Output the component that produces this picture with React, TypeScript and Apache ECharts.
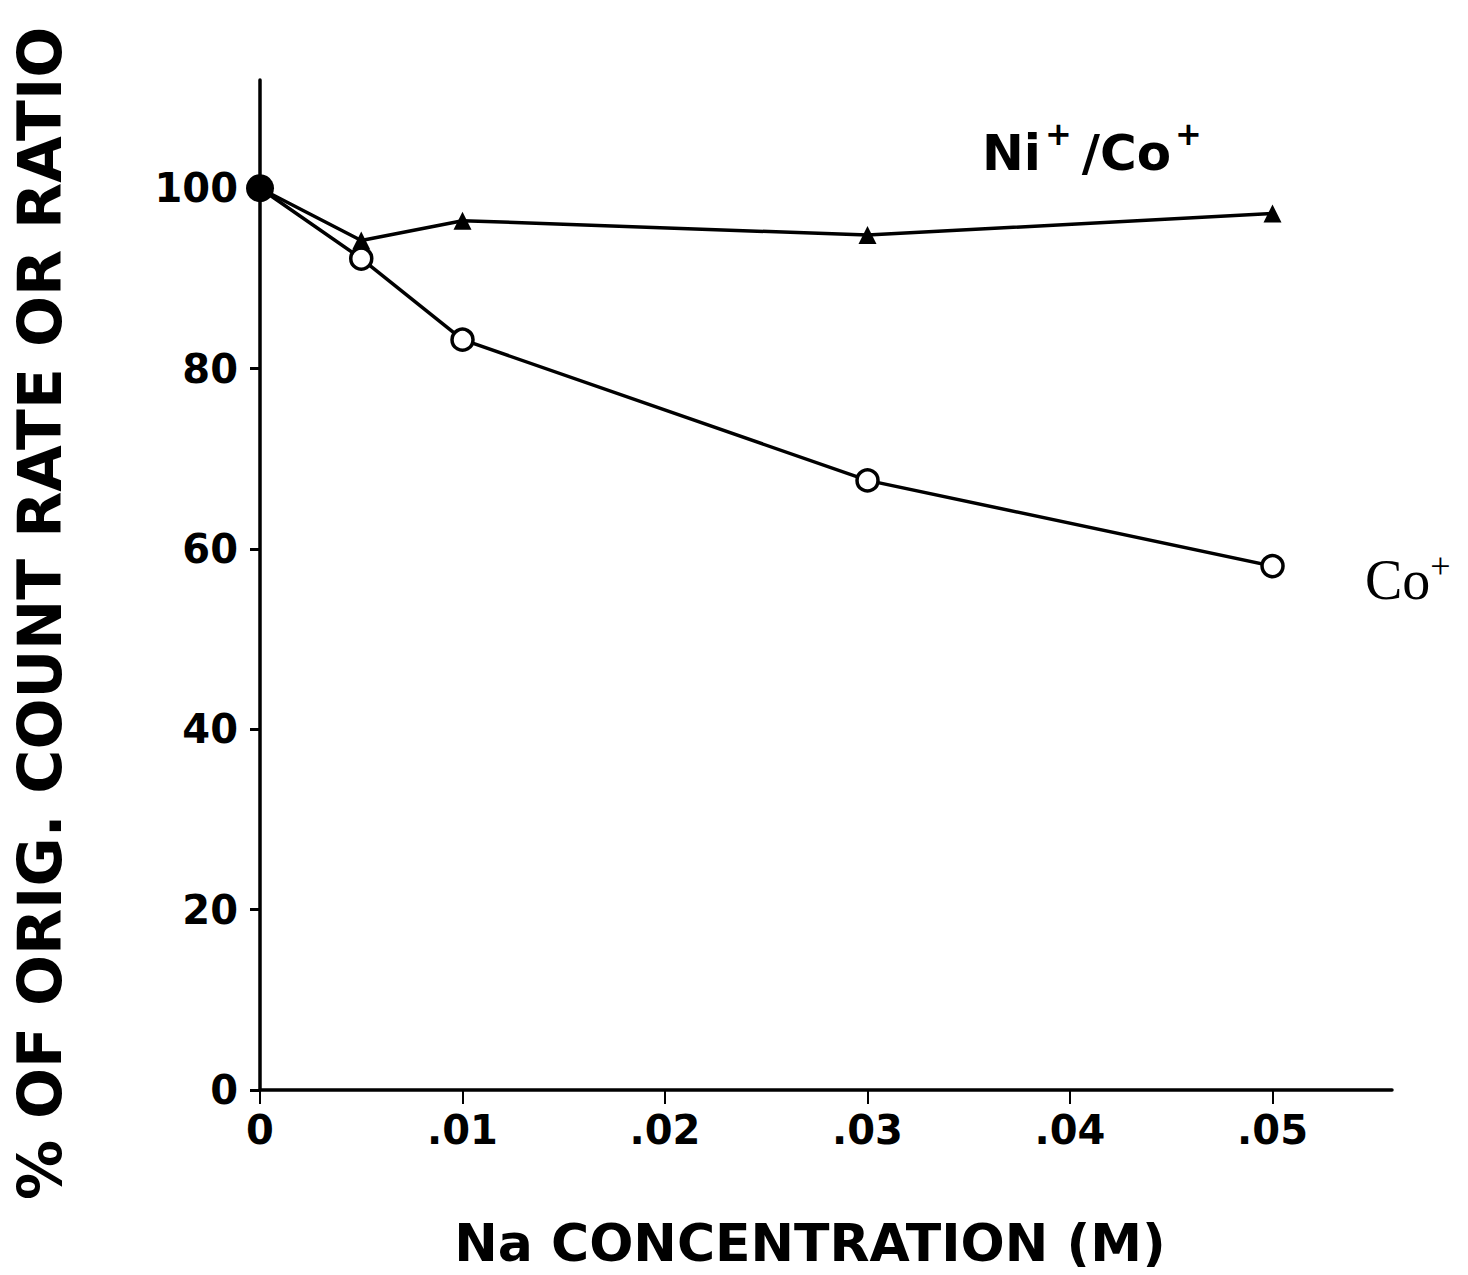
import React, { useEffect, useRef } from "react";
import * as echarts from "echarts";

const xValues = [0, 0.005, 0.01, 0.03, 0.05];
const niCoRatio = [100, 94.2, 96.4, 94.8, 97.2];
const coCount = [100, 92.2, 83.2, 67.6, 58.1];
const xTicks = [0, 0.01, 0.02, 0.03, 0.04, 0.05];
const yTicks = [0, 20, 40, 60, 80, 100];

const xTitle = "Na CONCENTRATION (M)";
const yTitle = "% OF ORIG. COUNT RATE OR RATIO";

const BOLD = "'DejaVu Sans', sans-serif";

export default function App() {
  const ref = useRef<HTMLDivElement>(null);
  useEffect(() => {
    if (!ref.current) return;
    const chart = echarts.init(ref.current, null, { renderer: "svg" });
    const fmtX = (v: number) => {
      if (Math.abs(v) < 1e-9) return "0";
      return "." + String(Math.round(v * 100)).padStart(2, "0");
    };
    chart.setOption({
      animation: false,
      backgroundColor: "#ffffff",
      grid: { left: 260, right: 76, top: 80, bottom: 185 },
      xAxis: {
        type: "value",
        min: 0,
        max: 0.0559,
        interval: 0.01,
        splitLine: { show: false },
        axisLine: { lineStyle: { color: "#000", width: 3.5 } },
        axisTick: { show: true, length: 14, lineStyle: { color: "#000", width: 2 } },
        axisLabel: {
          showMaxLabel: false,
          color: "#000",
          fontFamily: BOLD,
          fontWeight: "bold",
          fontSize: 40,
          margin: 20,
          formatter: (v: number) => (xTicks.some((t) => Math.abs(t - v) < 1e-9) ? fmtX(v) : ""),
        },
      },
      yAxis: {
        type: "value",
        min: 0,
        max: 112,
        interval: 20,
        splitLine: { show: false },
        axisLine: { lineStyle: { color: "#000", width: 3.5 } },
        axisTick: { show: true, length: 10, lineStyle: { color: "#000", width: 3 } },
        axisLabel: {
          showMaxLabel: false,
          color: "#000",
          fontFamily: BOLD,
          fontWeight: "bold",
          fontSize: 40,
          margin: 22,
          formatter: (v: number) => (yTicks.includes(v) ? String(v) : ""),
        },
      },
      series: [
        {
          name: "Co+",
          type: "line",
          data: xValues.map((x, i) => [x, coCount[i]]),
          lineStyle: { color: "#000", width: 3.5 },
          symbol: "circle",
          symbolSize: 21,
          itemStyle: { color: "#fff", borderColor: "#000", borderWidth: 3.5 },
          z: 2,
        },
        {
          name: "Ni+/Co+",
          type: "line",
          data: xValues.map((x, i) =>
            i === 0
              ? { value: [x, niCoRatio[i]], symbol: "circle", symbolSize: 28 }
              : { value: [x, niCoRatio[i]] }
          ),
          lineStyle: { color: "#000", width: 3.5 },
          symbol: "triangle",
          symbolSize: 18,
          itemStyle: { color: "#000" },
          z: 3,
        },
      ],
      graphic: [
        {
          type: "text",
          x: 810,
          y: 1243,
          style: {
            text: xTitle,
            fontFamily: BOLD,
            fontWeight: "bold",
            fontSize: 52,
            fill: "#000",
            textAlign: "center",
            textVerticalAlign: "middle",
          },
        },
        {
          type: "text",
          x: 40,
          y: 1200,
          rotation: Math.PI / 2,
          style: {
            text: yTitle,
            fontFamily: BOLD,
            fontWeight: "bold",
            fontSize: 60,
            fill: "#000",
            textAlign: "left",
            textVerticalAlign: "middle",
          },
        },
        {
          type: "text",
          x: 982,
          y: 148,
          style: {
            text: "{b|Ni}{s|+}{b|/Co}{s|+}",
            textAlign: "left",
            textVerticalAlign: "middle",
            rich: {
              b: { fontFamily: BOLD, fontWeight: "bold", fontSize: 50, fill: "#000", lineHeight: 60, verticalAlign: "bottom" },
              s: { fontFamily: BOLD, fontWeight: "bold", fontSize: 32, fill: "#000", lineHeight: 60, verticalAlign: "top", padding: [0, 10, 0, 4] },
            },
          },
        },
        {
          type: "text",
          x: 1365,
          y: 578,
          style: {
            text: "{b|Co}{s|+}",
            textAlign: "left",
            textVerticalAlign: "middle",
            rich: {
              b: { fontFamily: "'Liberation Serif', serif", fontSize: 56, fill: "#000", lineHeight: 60, verticalAlign: "bottom" },
              s: { fontFamily: "'Liberation Serif', serif", fontSize: 36, fill: "#000", lineHeight: 60, verticalAlign: "top" },
            },
          },
        },
      ],
    });
    return () => chart.dispose();
  }, []);
  return <div ref={ref} style={{ width: 1468, height: 1275, margin: -8 }} />;
}
